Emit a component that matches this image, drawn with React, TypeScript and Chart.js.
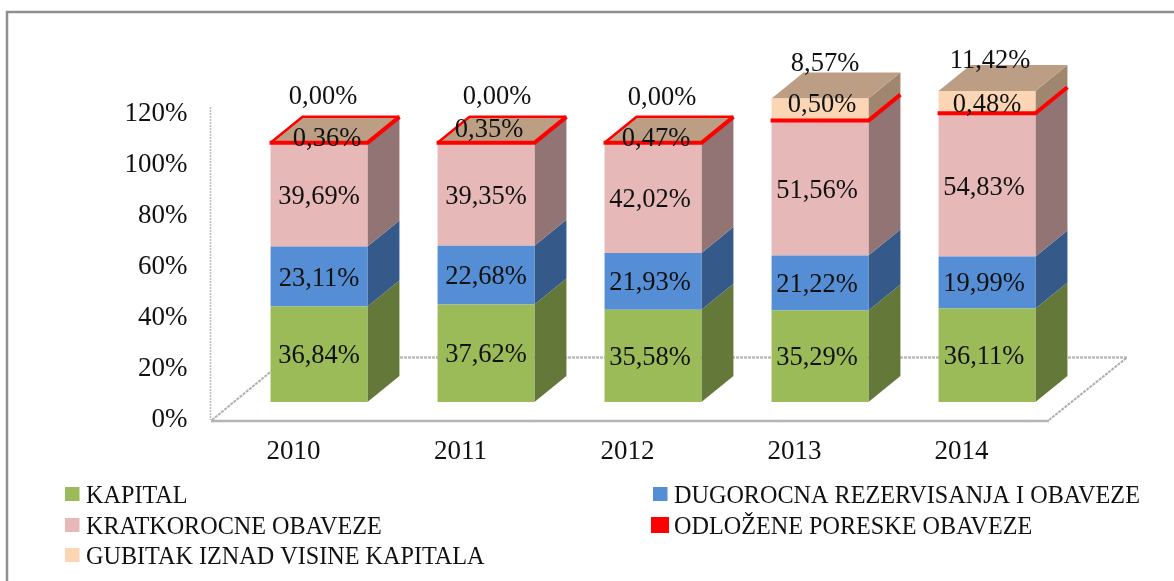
import React, { useEffect, useRef } from "react";
import { Chart, registerables } from "chart.js";

Chart.register(...registerables);

const years = ["2010", "2011", "2012", "2013", "2014"];
const kapital = [36.84, 37.62, 35.58, 35.29, 36.11];
const dugorocna = [23.11, 22.68, 21.93, 21.22, 19.99];
const kratkorocne = [39.69, 39.35, 42.02, 51.56, 54.83];
const odlozene = [0.36, 0.35, 0.47, 0.5, 0.48];
const gubitak = [0, 0, 0, 8.57, 11.42];
const yTicks = [0, 20, 40, 60, 80, 100, 120];

const seriesNames = [
  "KAPITAL",
  "DUGOROCNA REZERVISANJA I OBAVEZE",
  "KRATKOROCNE OBAVEZE",
  "ODLOŽENE PORESKE OBAVEZE",
  "GUBITAK IZNAD VISINE KAPITALA",
];
const seriesValues = [kapital, dugorocna, kratkorocne, odlozene, gubitak];
const fronts = ["#9BBB59", "#558ED5", "#E6B9B8", "#FF0000", "#FCD5B5"];
const sides = ["#64783A", "#355A8A", "#937474", "#937474", "#A0866F"];
const TOP = "#BC9E85";
const RED = "#FF0000";

// Hand-placed label nudges from the reference, [dx, dy] per category and series.
const labelNudge: number[][][] = [
  [[0, 2], [0, 2], [-3, 2], [-3, 2], [-3, 2]],
  [[0, 2], [0, 2], [-3, 2], [-3, 2], [-3, 2]],
  [[0, 2], [0, 2], [-3, 2], [-3, 2], [-3, 2]],
  [[8, -4], [3, -13], [3, -4], [2, -16], [0, -9]],
  [[4, -46], [11, -46], [9, -45], [5, -45], [3, -37]],
];

const DX = 32;
const DY = 26;
const SERIF = "'Liberation Serif', serif";

const boxes3d = {
  id: "boxes3d",
  beforeDraw(chart: any) {
    const { ctx } = chart;
    ctx.save();
    ctx.fillStyle = "#fff";
    ctx.fillRect(0, 0, chart.width, chart.height);
    ctx.strokeStyle = "#8f8f8f";
    ctx.lineWidth = 2.5;
    ctx.beginPath();
    ctx.moveTo(7, 581);
    ctx.lineTo(7, 12);
    ctx.lineTo(1174, 12);
    ctx.stroke();
    ctx.restore();
  },
  beforeDatasetsDraw(chart: any) {
    const { ctx } = chart;
    const yb = chart.scales.yBars;
    ctx.save();
    // wall
    ctx.strokeStyle = "#bdbdbd";
    ctx.lineWidth = 1.5;
    ctx.setLineDash([2, 1]);
    ctx.beginPath();
    ctx.moveTo(210.5, 107);
    ctx.lineTo(210.5, 420);
    ctx.stroke();
    // floor
    ctx.strokeStyle = "#bcbcbc";
    ctx.lineWidth = 2.5;
    ctx.setLineDash([3, 1]);
    ctx.beginPath();
    ctx.moveTo(288, 357.5);
    ctx.lineTo(1127, 357.5);
    ctx.stroke();
    ctx.lineWidth = 2;
    ctx.strokeStyle = "#b0b0b0";
    ctx.beginPath();
    ctx.moveTo(212, 420);
    ctx.lineTo(288, 357.5);
    ctx.moveTo(1049, 420);
    ctx.lineTo(1127, 357.5);
    ctx.stroke();
    ctx.setLineDash([]);
    ctx.strokeStyle = "#b5b5b5";
    ctx.lineWidth = 2.5;
    ctx.beginPath();
    ctx.moveTo(211, 421);
    ctx.lineTo(1049, 421);
    ctx.stroke();

    // sides and tops of the boxes
    const metas = chart.data.datasets.map((_: any, i: number) => chart.getDatasetMeta(i));
    years.forEach((_, c) => {
      let topY = 0;
      let x1 = 0;
      let x2 = 0;
      metas.forEach((m: any, s: number) => {
        const el = m.data[c];
        const half = el.width / 2;
        x1 = el.x - half;
        x2 = el.x + half;
        const yTop = Math.max(el.y, yb.top);
        const yBot = Math.max(el.base, yb.top);
        topY = yTop;
        ctx.fillStyle = sides[s];
        ctx.beginPath();
        ctx.moveTo(x2, yBot);
        ctx.lineTo(x2 + DX, yBot - DY);
        ctx.lineTo(x2 + DX, yTop - DY);
        ctx.lineTo(x2, yTop);
        ctx.closePath();
        ctx.fill();
      });
      ctx.fillStyle = TOP;
      ctx.beginPath();
      ctx.moveTo(x1, topY);
      ctx.lineTo(x2, topY);
      ctx.lineTo(x2 + DX, topY - DY);
      ctx.lineTo(x1 + DX, topY - DY);
      ctx.closePath();
      ctx.fill();
    });
    ctx.restore();
  },
  afterDatasetsDraw(chart: any) {
    const { ctx } = chart;
    const red = chart.getDatasetMeta(3);
    ctx.save();
    ctx.strokeStyle = RED;
    ctx.lineJoin = "round";
    years.forEach((_, c) => {
      const el = red.data[c];
      const half = el.width / 2;
      const x1 = el.x - half;
      const x2 = el.x + half;
      const y = el.y;
      if (gubitak[c] === 0) {
        ctx.lineWidth = 2.5;
        ctx.beginPath();
        ctx.moveTo(x1, y);
        ctx.lineTo(x1 + DX, y - DY);
        ctx.lineTo(x2 + DX, y - DY);
        ctx.stroke();
      }
      ctx.lineWidth = 4;
      ctx.beginPath();
      ctx.moveTo(x1 - 1, y);
      ctx.lineTo(x2, y);
      ctx.lineTo(x2 + DX, y - DY);
      ctx.stroke();
    });

    // value labels
    ctx.fillStyle = "#111";
    ctx.font = `26.5px ${SERIF}`;
    ctx.textAlign = "center";
    ctx.textBaseline = "middle";
    seriesValues.forEach((vals, s) => {
      const meta = chart.getDatasetMeta(s);
      vals.forEach((v, c) => {
        const el = meta.data[c];
        const [dx, dy] = labelNudge[s][c];
        const text = v.toFixed(2).replace(".", ",") + "%";
        ctx.fillText(text, el.x + dx, (el.y + el.base) / 2 + dy);
      });
    });

    // two-column legend, row first
    const cols = [65, 653];
    const rows = [494, 525, 555];
    ctx.font = `24.2px ${SERIF}`;
    ctx.textAlign = "left";
    seriesNames.forEach((name, i) => {
      const x = cols[i % 2];
      const y = rows[Math.floor(i / 2)];
      ctx.fillStyle = fronts[i];
      if (i === 3) ctx.fillRect(x - 2, y - 8, 18, 16);
      else ctx.fillRect(x, y - 7, 14.5, 14);
      ctx.fillStyle = "#111";
      ctx.fillText(name, x + 21, y + 3);
    });
    ctx.restore();
  },
};

export default function App() {
  const ref = useRef<HTMLCanvasElement>(null);
  useEffect(() => {
    const chart = new Chart(ref.current as HTMLCanvasElement, {
      type: "bar",
      data: {
        labels: years,
        datasets: seriesValues.map((vals, i) => ({
          label: seriesNames[i],
          data: vals,
          backgroundColor: fronts[i],
          borderWidth: 0,
          yAxisID: "yBars",
          categoryPercentage: 0.58,
          barPercentage: 1,
        })),
      },
      options: {
        responsive: false,
        animation: false,
        layout: { padding: { top: 91, bottom: 113, right: 103.5, left: 0 } },
        plugins: { legend: { display: false }, tooltip: { enabled: false } },
        scales: {
          x: {
            stacked: true,
            grid: { display: false, drawTicks: false },
            border: { display: false },
            afterFit: (s: any) => {
              s.height = 50;
            },
            ticks: {
              padding: 18,
              labelOffset: -25.5,
              color: "#111",
              font: { family: SERIF, size: 27 },
              maxRotation: 0,
            },
          },
          y: {
            position: "left",
            min: yTicks[0],
            max: 128.2,
            grid: { display: false, drawTicks: false },
            border: { display: false },
            afterFit: (s: any) => {
              s.width = 235.5;
            },
            ticks: {
              stepSize: 20,
              includeBounds: false,
              padding: 48,
              labelOffset: 2,
              color: "#111",
              font: { family: SERIF, size: 27 },
              callback: (v: any) => (yTicks.includes(Number(v)) ? `${v}%` : ""),
            },
          },
          yBars: {
            display: false,
            stacked: true,
            min: -6.18,
            max: yTicks[yTicks.length - 1],
          },
        },
      },
      plugins: [boxes3d],
    } as any);
    return () => chart.destroy();
  }, []);
  return (
    <div style={{ position: "absolute", left: 0, top: 0, width: 1174, height: 581, overflow: "hidden", background: "#fff" }}>
      <canvas ref={ref} width={1174} height={581} style={{ display: "block" }} />
    </div>
  );
}
